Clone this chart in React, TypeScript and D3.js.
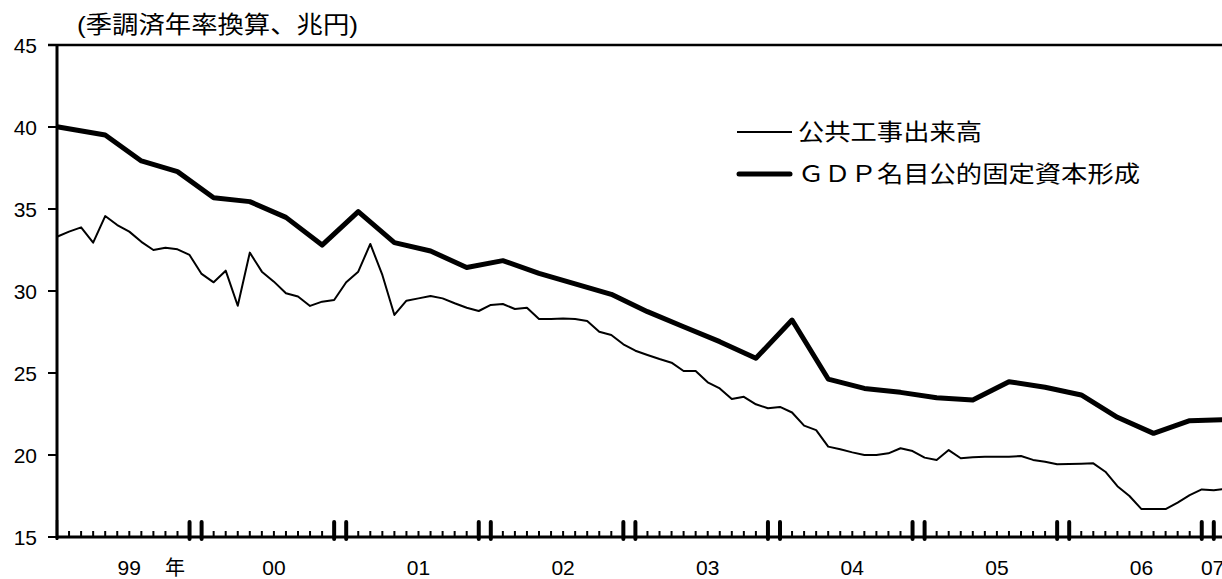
import * as d3 from 'd3';
import React from 'react';

// month index 0 = first month on the axis
const worksValues = [
  33.31, 33.62, 33.88, 32.95, 34.57, 34.02, 33.62, 33.0, 32.5, 32.64, 32.54, 32.2,
  31.04, 30.53, 31.24, 29.1, 32.34, 31.18, 30.57, 29.86, 29.66, 29.09, 29.35, 29.45,
  30.53, 31.18, 32.87, 30.98, 28.54, 29.41, 29.55, 29.7, 29.55, 29.25, 28.98, 28.78,
  29.15, 29.21, 28.9, 28.98, 28.29, 28.29, 28.33, 28.29, 28.17, 27.52, 27.32, 26.75,
  26.36, 26.1, 25.85, 25.63, 25.12, 25.12, 24.43, 24.06, 23.41, 23.55, 23.09, 22.85,
  22.93, 22.59, 21.79, 21.52, 20.51, 20.35, 20.16, 20.0, 20.0, 20.1, 20.41, 20.24,
  19.84, 19.7, 20.3, 19.8, 19.86, 19.9, 19.9, 19.9, 19.94, 19.7, 19.59, 19.43,
  19.45, 19.47, 19.49, 18.98, 18.1, 17.5, 16.7, 16.7, 16.7, 17.1, 17.55, 17.9,
  17.85, 17.95,
];

const gdpMonths = [0, 4, 7, 10, 13, 16, 19, 22, 25, 28, 31, 34, 37, 40, 43, 46, 49,
  52, 55, 58, 61, 64, 67, 70, 73, 76, 79, 82, 85, 88, 91, 94, 97];
const gdpValues = [40.02, 39.51, 37.93, 37.28, 35.69, 35.45, 34.49, 32.8, 34.84, 32.95,
  32.44, 31.43, 31.85, 31.08, 30.43, 29.8, 28.74, 27.82, 26.91, 25.9, 28.23, 24.63,
  24.06, 23.82, 23.49, 23.35, 24.47, 24.13, 23.66, 22.3, 21.32, 22.09, 22.15];

const yearLabels = ['99', '00', '01', '02', '03', '04', '05', '06', '07'];
const yearLabelMonths = [6, 18, 30, 42, 54, 66, 78, 90, 95.9];
const yTicks = [15, 20, 25, 30, 35, 40, 45];

const seriesNames = ['公共工事出来高', 'ＧＤＰ名目公的固定資本形成'];
const unitLabel = '(季調済年率換算、兆円)';

const latin = '"Liberation Sans", Arial, sans-serif';
const cjk = '"Liberation Sans", "Noto Sans CJK JP", sans-serif';

export default function App() {
  const width = 1222;
  const height = 579;

  const x = d3.scaleLinear().domain([0, 96]).range([57, 1213.8]);
  const y = d3.scaleLinear().domain([15, 45]).range([537, 45]);

  const line = d3.line<[number, number]>()
    .x(d => x(d[0]))
    .y(d => y(d[1]));

  const worksPath = line(worksValues.map((v, i) => [i, v] as [number, number]));
  const gdpPath = line(gdpValues.map((v, i) => [gdpMonths[i], v] as [number, number]));

  const monthTicks = d3.range(0, 98);

  return (
    <svg width={width} height={height}
      style={{ position: 'absolute', left: 0, top: 0, background: '#fff' }}>
      {/* unit label */}
      <text x={77} y={33} fontFamily={cjk} fontSize={24} textLength={281}
        lengthAdjust="spacingAndGlyphs">{unitLabel}</text>

      {/* top frame line */}
      <line x1={48} x2={width} y1={y(45)} y2={y(45)} stroke="#000" strokeWidth={2.5} />

      {/* y ticks + labels */}
      {yTicks.map(t => (
        <g key={t}>
          <line x1={48} x2={57} y1={y(t)} y2={y(t)} stroke="#000" strokeWidth={2} />
          <text x={37} y={y(t)} dy="0.36em" textAnchor="end" fontFamily={latin}
            fontSize={21}>{t}</text>
        </g>
      ))}

      {/* lines */}
      <path d={worksPath || ''} fill="none" stroke="#000" strokeWidth={2}
        strokeLinejoin="round" />
      <path d={gdpPath || ''} fill="none" stroke="#000" strokeWidth={5}
        strokeLinejoin="round" />

      {/* axes */}
      <line x1={57} x2={57} y1={y(45)} y2={y(15) + 2} stroke="#000" strokeWidth={3} />
      <line x1={57} x2={width} y1={y(15)} y2={y(15)} stroke="#000" strokeWidth={3} />

      {/* month ticks */}
      {monthTicks.map(i => {
        const bold = i > 0 && (i % 12 === 11 || i % 12 === 0);
        if (i === 0) {
          return <line key={i} x1={x(i)} x2={x(i)} y1={520} y2={540}
            stroke="#000" strokeWidth={2.5} />;
        }
        return bold
          ? <line key={i} x1={x(i)} x2={x(i)} y1={522} y2={539} stroke="#000"
              strokeWidth={4} strokeLinecap="round" />
          : <line key={i} x1={x(i)} x2={x(i)} y1={531} y2={537} stroke="#000"
              strokeWidth={2} />;
      })}

      {/* year labels */}
      {yearLabels.map((l, k) => (
        <text key={l} x={x(yearLabelMonths[k])} y={575} textAnchor="middle"
          fontFamily={latin} fontSize={21}>{l}</text>
      ))}
      <text x={x(9.8)} y={575} textAnchor="middle" fontFamily={cjk} fontSize={20}>年</text>

      {/* legend */}
      <line x1={737} x2={792} y1={132} y2={132} stroke="#000" strokeWidth={2} />
      <text x={798} y={140} fontFamily={cjk} fontSize={23} textLength={184}
        lengthAdjust="spacingAndGlyphs">{seriesNames[0]}</text>
      <line x1={739} x2={790} y1={174} y2={174} stroke="#000" strokeWidth={5}
        strokeLinecap="round" />
      <text x={798} y={182} fontFamily={cjk} fontSize={23} textLength={342}
        lengthAdjust="spacingAndGlyphs">{seriesNames[1]}</text>
    </svg>
  );
}
